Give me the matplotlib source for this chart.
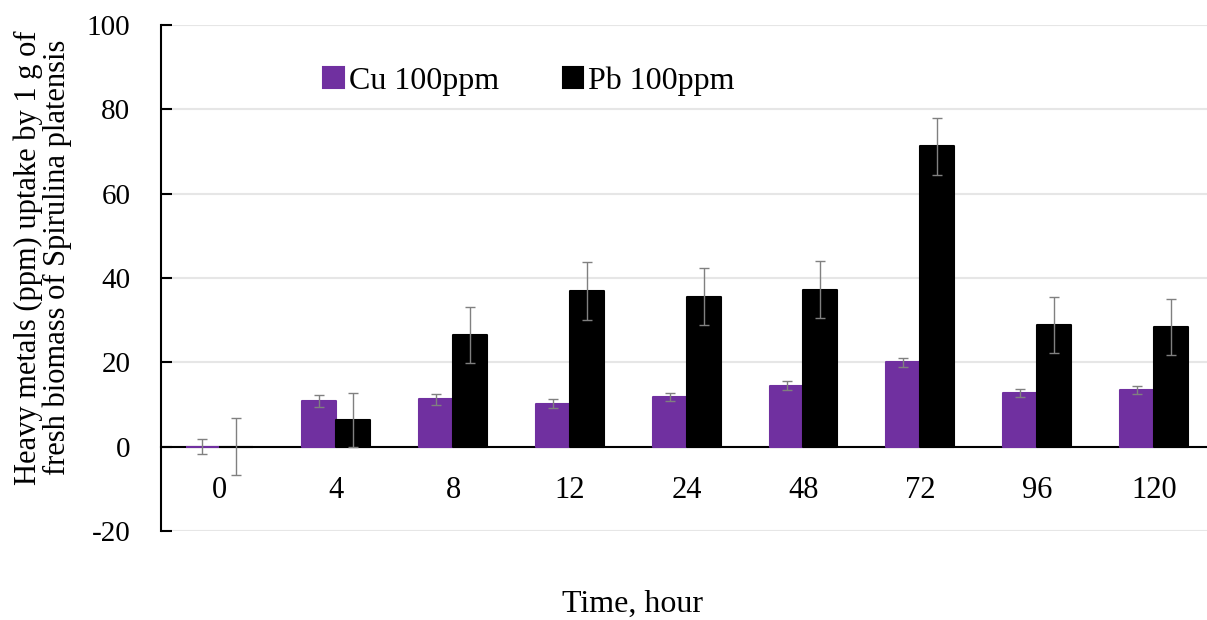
import numpy as np
import matplotlib as mpl
import matplotlib.pyplot as plt

mpl.rcParams['font.family'] = ['Liberation Serif', 'DejaVu Serif']
mpl.rcParams['axes.unicode_minus'] = False

hours = ['0', '4', '8', '12', '24', '48', '72', '96', '120']
cu_mean = [0.0, 10.9, 11.2, 10.2, 11.8, 14.5, 20.0, 12.8, 13.4]
cu_err = [1.8, 1.4, 1.3, 1.0, 1.0, 1.1, 1.1, 0.9, 1.0]
pb_mean = [0.0, 6.4, 26.5, 37.0, 35.6, 37.2, 71.2, 28.8, 28.4]
pb_err = [6.7, 6.4, 6.6, 6.9, 6.8, 6.8, 6.8, 6.6, 6.6]

fig = plt.figure(figsize=(12.07, 6.2), dpi=100)
ax = fig.add_axes([0.1334, 0.1435, 0.8710, 0.8162])

x = np.arange(len(hours))
w = 0.29
ekw = dict(ecolor='#808080', elinewidth=1.0, capsize=3.5, capthick=1.0)
ax.bar(x - w/2, cu_mean, w, color='#7030A0', edgecolor='#7030A0', linewidth=1.5,
       joinstyle='round', yerr=cu_err, error_kw=ekw, label='Cu 100ppm', zorder=3)
ax.bar(x + w/2, pb_mean, w, color='black', edgecolor='black', linewidth=1.5,
       joinstyle='round', yerr=pb_err, error_kw=ekw, label='Pb 100ppm', zorder=3)

ax.set_xlim(-0.5, len(hours) - 0.5)
ax.set_ylim(-20, 100)
ax.set_yticks(range(-20, 101, 20))
ax.yaxis.grid(True, color='#e6e6e6', linewidth=1.5, zorder=0)
ax.set_axisbelow(True)
ax.tick_params(axis='y', direction='in', length=8, width=1.5, labelsize=21, pad=22)

ax.spines['top'].set_visible(False)
ax.spines['right'].set_visible(False)
ax.spines['left'].set_linewidth(1.5)
ax.spines['bottom'].set_position(('data', 0))
ax.spines['bottom'].set_linewidth(1.5)
ax.set_xticks(x)
ax.set_xticklabels(hours)
ax.tick_params(axis='x', length=0, labelsize=22, pad=21)

fig.text(0.0356, 0.585, 'Heavy metals (ppm) uptake by 1 g of\nfresh biomass of Spirulina platensis',
         fontsize=22, rotation=90, ha='center', va='center', linespacing=1.0)
fig.text(0.524, 0.025, 'Time, hour', fontsize=23, ha='center', va='center')

ax.legend(loc='upper left', bbox_to_anchor=(0.1267, 0.975), ncol=2, frameon=False,
          fontsize=23, handlelength=0.65, handleheight=0.65, handletextpad=0.15,
          columnspacing=2.0)

fig.savefig('out.png', dpi=100)
